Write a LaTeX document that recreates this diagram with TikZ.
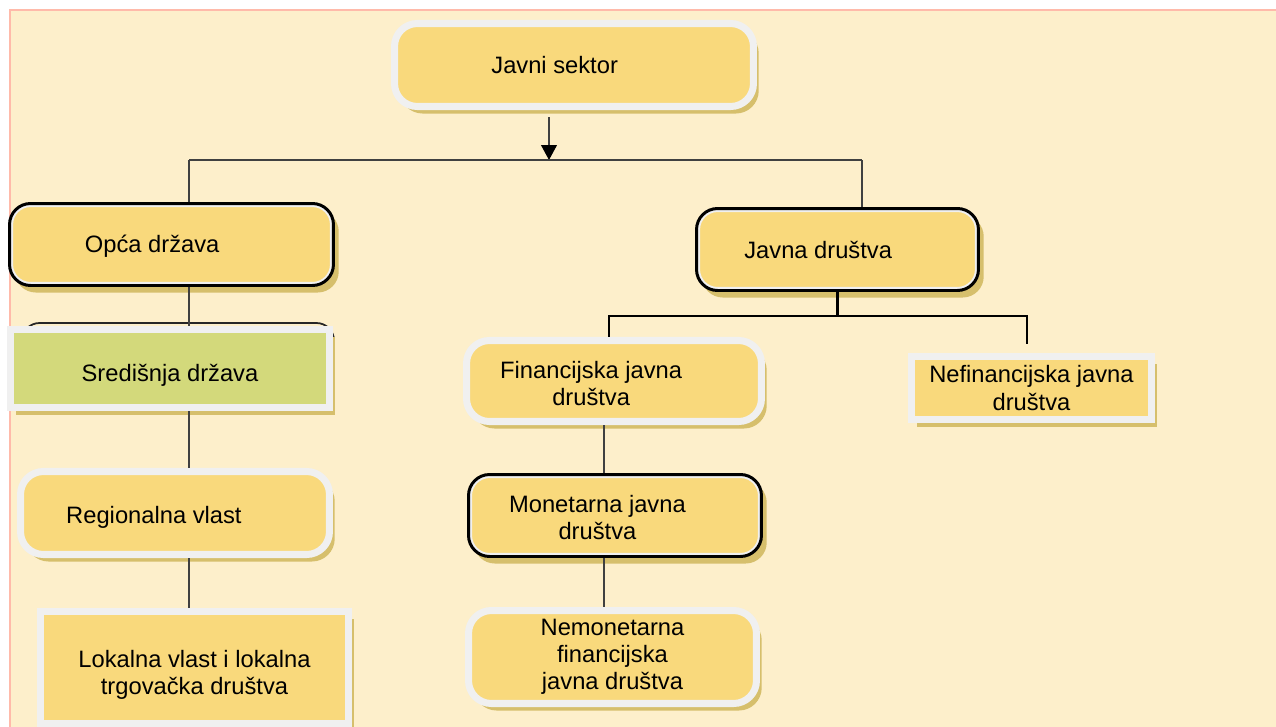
\documentclass[tikz,border=0pt]{standalone}
\usepackage{fontspec}
\setmainfont{Liberation Sans}
\usetikzlibrary{positioning,calc,shadows,arrows.meta}

\definecolor{pagebg}{RGB}{253,239,203}
\definecolor{pageline}{RGB}{255,186,170}
\definecolor{boxfill}{RGB}{249,217,124}
\definecolor{boxrim}{RGB}{240,240,240}
\definecolor{boxgreen}{RGB}{211,217,123}
\definecolor{boxshade}{RGB}{214,191,108}

% label moved left by #1 and down by #2
\newcommand{\boxlabel}[3]{\raisebox{-#2}[\height][\depth]{\kern-#1\begin{tabular}{@{}c@{}}#3\end{tabular}\kern#1}}

\begin{document}
\begin{tikzpicture}[
    x=0.02cm, y=-0.02cm,
    font=\fontsize{13.5}{15.5}\selectfont,
    softbox/.style={rectangle, rounded corners=13pt, draw=boxrim, line width=4pt, fill=boxfill,
        drop shadow={shadow xshift=3pt, shadow yshift=-4pt, fill=boxshade, opacity=1}},
    squarebox/.style={softbox, sharp corners},
    greenbox/.style={squarebox, fill=boxgreen},
    darkbox/.style={rectangle, rounded corners=12pt, draw=black, line width=1.7pt, fill=boxfill,
        drop shadow={shadow xshift=3pt, shadow yshift=-4pt, fill=boxshade, opacity=1},
        path picture={\draw[boxrim, line width=4pt, rounded corners=12pt]
            (path picture bounding box.south west) rectangle (path picture bounding box.north east);}},
    link/.style={draw=black!75, line width=0.7pt},
    tree/.style={draw=black, line width=1.5pt}
]
\useasboundingbox (0,0) rectangle (1276,727);

% Page background
\fill[pagebg] (10,10) rectangle (1276,727);
\draw[pageline, line width=1.2pt] (10,727) -- (10,10) -- (1276,10);

% Define node positions
\node[softbox, minimum width=7.18cm, minimum height=1.66cm] (JS) at (574,65) {\boxlabel{11pt}{1.8pt}{Javni sektor}};
\node[darkbox, minimum width=6.48cm, minimum height=1.64cm] (OD) at (171.5,244.5) {\boxlabel{11pt}{1.2pt}{Opća država}};
\draw[black!85, line width=1pt, rounded corners=10pt] (22,323) rectangle (334,402);
\node[greenbox, minimum width=6.38cm, minimum height=1.56cm] (SD) at (170,368.5) {\boxlabel{0pt}{4.5pt}{Središnja država}};
\node[softbox, minimum width=6.18cm, minimum height=1.66cm] (RV) at (175,513) {\boxlabel{12pt}{2.8pt}{Regionalna vlast}};
\node[squarebox, minimum width=6.16cm, minimum height=2.24cm] (LV) at (194.5,667.5) {\boxlabel{0pt}{4.5pt}{Lokalna vlast i lokalna\\trgovačka društva}};
\node[darkbox, minimum width=5.64cm, minimum height=1.64cm] (JD) at (837.5,249.5) {\boxlabel{11pt}{2.3pt}{Javna društva}};
\node[softbox, minimum width=5.9cm, minimum height=1.62cm] (FJ) at (614,381) {\boxlabel{13pt}{3pt}{Financijska javna\\društva}};
\node[darkbox, minimum width=5.86cm, minimum height=1.64cm] (MJ) at (615,515.5) {\boxlabel{10pt}{3pt}{Monetarna javna\\društva}};
\node[softbox, minimum width=5.76cm, minimum height=1.86cm, align=center] (NJ) at (612.5,657) {Nemonetarna\\financijska\\javna društva};
\node[squarebox, minimum width=4.8cm, minimum height=1.26cm, align=center] (NF) at (1031.5,388) {Nefinancijska javna\\društva};

% Branch points
\coordinate (split) at (549,160);
\coordinate (lsplit) at (189,160);
\coordinate (rsplit) at (862,160);
\coordinate (fjtop) at (609,316);
\coordinate (nftop) at (1027,316);
\coordinate (nfend) at (1027,344);
\coordinate (mcol) at (604,0);

% Top level
\draw[link, shorten <=4pt, -{Triangle[width=9pt, length=8.5pt, color=black]}] (JS.south -| split) -- (split);
\draw[link] (lsplit) -- (rsplit);
\draw[link] (lsplit) -- (lsplit |- OD.north);
\draw[link] (rsplit) -- (rsplit |- JD.north);

% Left column
\draw[link] (OD.south -| lsplit) -- (SD.north -| lsplit);
\draw[link] (SD.south -| lsplit) -- (RV.north -| lsplit);
\draw[link] (RV.south -| lsplit) -- (LV.north -| lsplit);

% Public corporations
\draw[tree] (JD.south) -- (JD.south |- fjtop);
\draw[tree] (fjtop |- FJ.north) -- (fjtop) -- (nftop) -- (nfend);
\draw[link] (FJ.south -| mcol) -- (MJ.north -| mcol);
\draw[link] (MJ.south -| mcol) -- (NJ.north -| mcol);

\end{tikzpicture}
\end{document}
